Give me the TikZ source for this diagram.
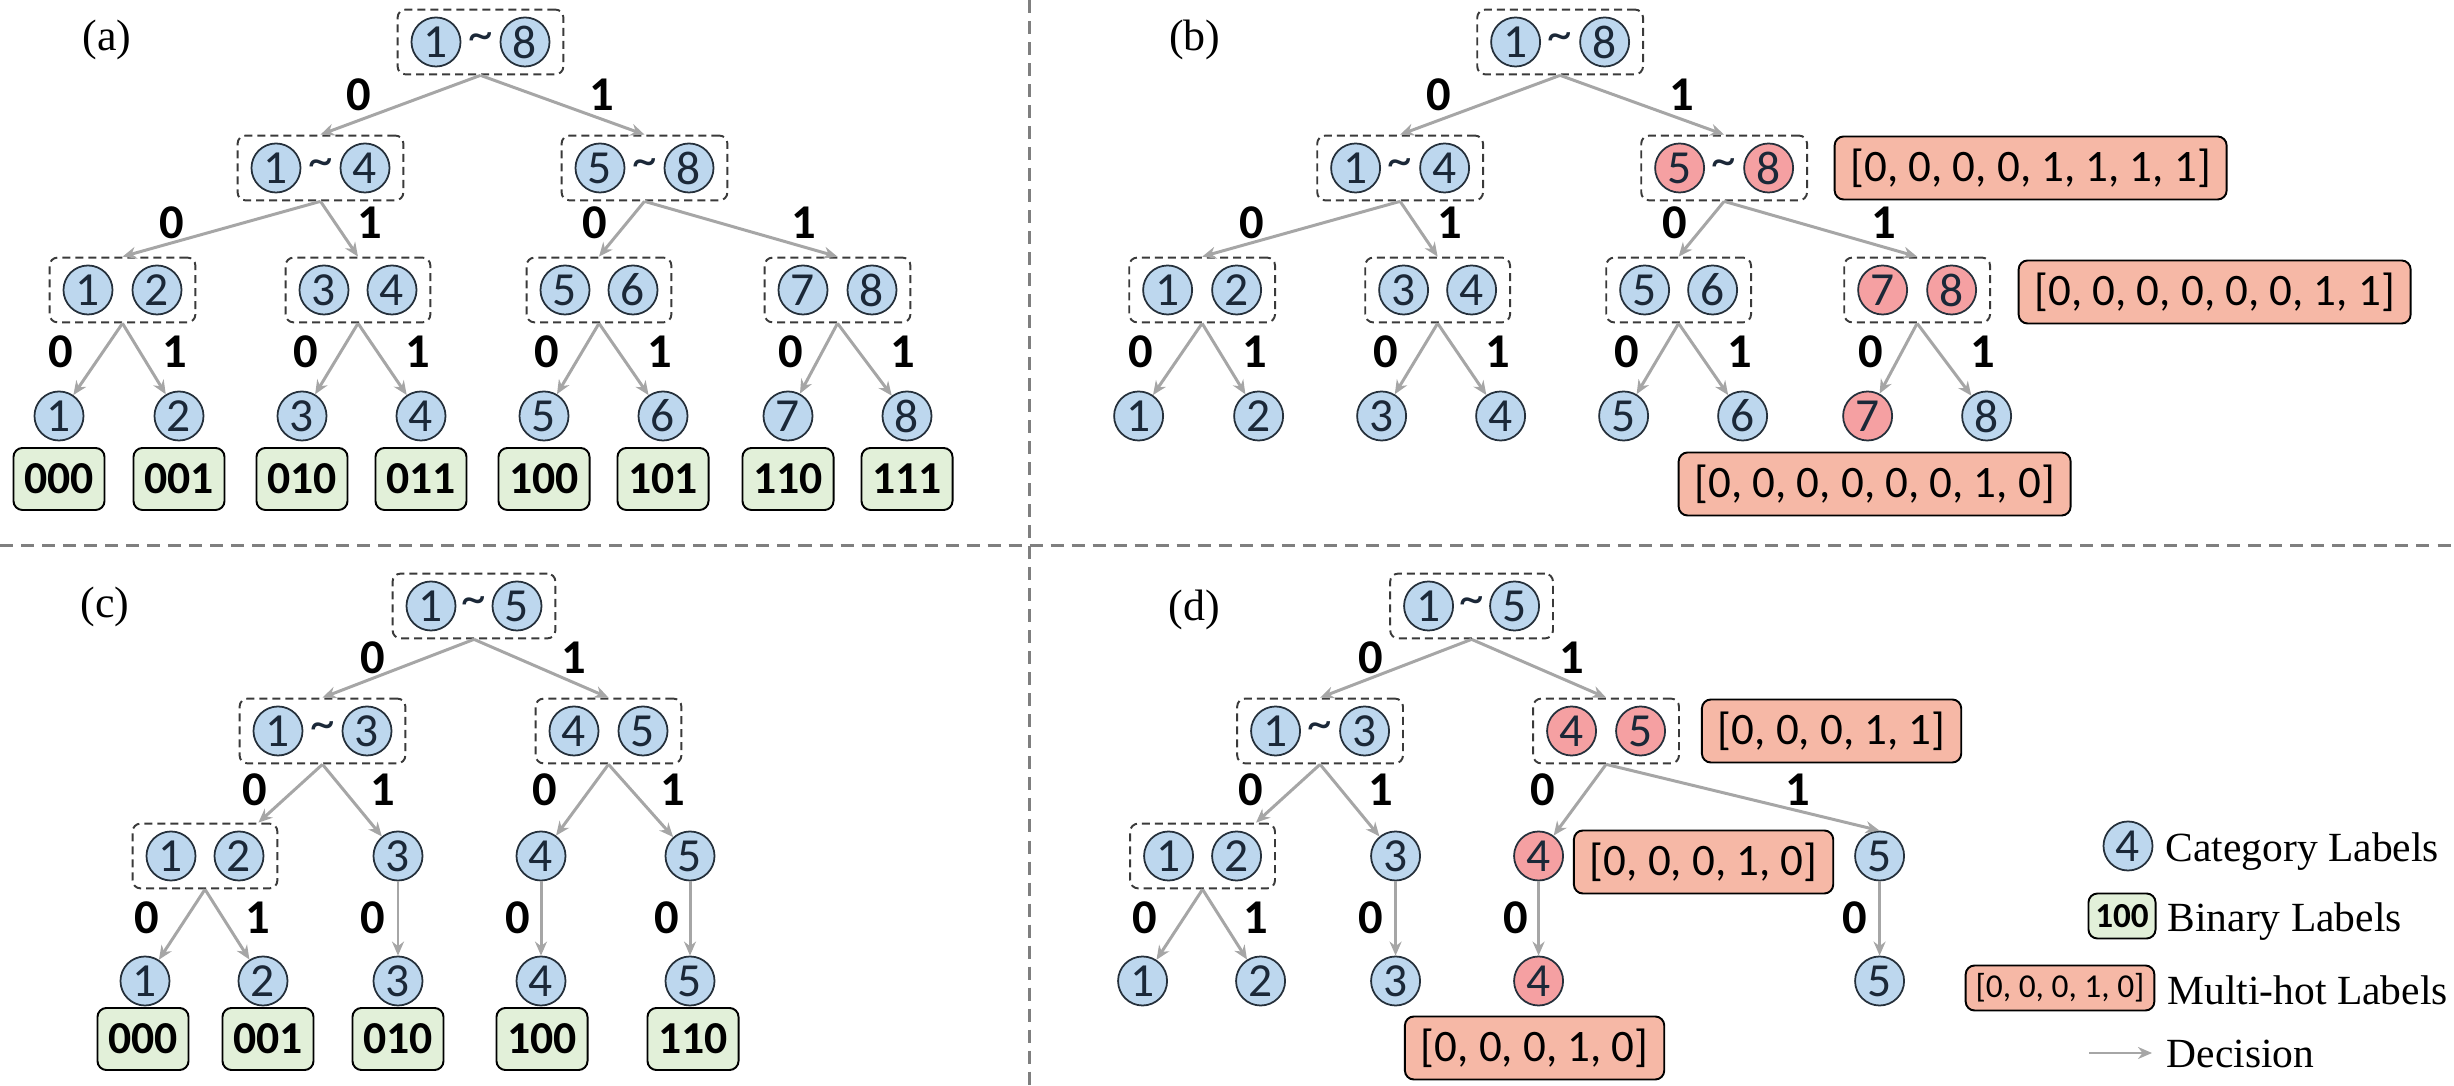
\documentclass[tikz,border=0pt]{standalone}
\usepackage{fontspec}
\setmainfont{Liberation Serif}
\newfontfamily\calibri{Carlito}
\usepackage{xcolor}
\definecolor{CatBlue}{HTML}{BDD7EE}
\definecolor{CatLine}{HTML}{25303B}
\definecolor{CatInk}{HTML}{1B2838}
\definecolor{HotPink}{HTML}{F5A0A2}
\definecolor{HotPeach}{HTML}{F6B8A6}
\definecolor{BinGreen}{HTML}{E2F0D9}
\definecolor{GrpLine}{HTML}{3A3A3A}
\definecolor{DecGray}{HTML}{A6A6A6}
\definecolor{SepGray}{HTML}{7F7F7F}
\usepackage{tikz}
\usetikzlibrary{arrows.meta,fit}

\begin{document}
\begin{tikzpicture}[
  x=0.01cm, y=-0.01cm,
  cat/.style={circle, draw=CatLine, fill=CatBlue, line width=0.5pt,
              minimum size=0.49cm, inner sep=0pt, text=CatInk,
              font=\calibri\fontsize{13.5}{13.5}\selectfont},
  hot/.style={cat, fill=HotPink},
  tld/.style={anchor=mid, inner sep=0pt, text=CatInk,
              font=\calibri\fontsize{14}{14}\selectfont},
  grp/.style={draw=GrpLine, line width=0.55pt, dash pattern=on 0.08cm off 0.05cm,
              rounded corners=0.08cm, inner xsep=0.13cm, inner ysep=0.07cm},
  bin/.style={draw=black, line width=0.55pt, fill=BinGreen, rounded corners=0.09cm,
              minimum width=0.91cm, minimum height=0.62cm, inner sep=0pt,
              font=\calibri\bfseries\fontsize{13}{13}\selectfont},
  multi/.style={draw=black, line width=0.55pt, fill=HotPeach, rounded corners=0.09cm,
                minimum height=0.63cm, inner xsep=0.16cm, inner ysep=0pt,
                font=\calibri\fontsize{12.8}{12.8}\selectfont},
  bit/.style={inner sep=0pt, font=\calibri\bfseries\fontsize{13.8}{13.8}\selectfont},
  dec/.style={-{Stealth[length=0.14cm, width=0.12cm]}, draw=DecGray, line width=0.85pt},
  tag/.style={inner sep=0pt, font=\fontsize{12.5}{12.5}\selectfont},
  key/.style={anchor=base west, inner sep=0pt, font=\fontsize{11.8}{11.8}\selectfont},
  sep/.style={draw=SepGray, line width=0.85pt, dash pattern=on 0.13cm off 0.08cm}
]
  \useasboundingbox (0,0) rectangle (2454,1086);

  % panel borders
  \draw[sep] (1029,0) -- (1029,1086);
  \draw[sep] (0,546) -- (2454,546);

  % (a) binary labels, full tree
  \node[tag] (atag) at (107,40) {(a)};
  \node[cat] (a18x) at (436,42) {1};
  \node[tld] (a18t) at (480.5,42) {\textasciitilde};
  \node[cat] (a18y) at (525,42) {8};
  \node[grp, fit=(a18x)(a18y)] (a18) {};

  \node[cat] (a14x) at (276,168) {1};
  \node[tld] (a14t) at (320.5,168) {\textasciitilde};
  \node[cat] (a14y) at (365,168) {4};
  \node[grp, fit=(a14x)(a14y)] (a14) {};
  \node[cat] (a58x) at (600,168) {5};
  \node[tld] (a58t) at (644.5,168) {\textasciitilde};
  \node[cat] (a58y) at (689,168) {8};
  \node[grp, fit=(a58x)(a58y)] (a58) {};

  \node[cat] (a12x) at (88,290) {1};
  \node[cat] (a12y) at (157,290) {2};
  \node[grp, fit=(a12x)(a12y)] (a12) {};
  \node[cat] (a34x) at (324,290) {3};
  \node[cat] (a34y) at (392,290) {4};
  \node[grp, fit=(a34x)(a34y)] (a34) {};
  \node[cat] (a56x) at (565,290) {5};
  \node[cat] (a56y) at (633,290) {6};
  \node[grp, fit=(a56x)(a56y)] (a56) {};
  \node[cat] (a78x) at (803,290) {7};
  \node[cat] (a78y) at (872,290) {8};
  \node[grp, fit=(a78x)(a78y)] (a78) {};

  \node[cat] (a1) at (59,416) {1};
  \node[cat] (a2) at (179,416) {2};
  \node[cat] (a3) at (302,416) {3};
  \node[cat] (a4) at (421,416) {4};
  \node[cat] (a5) at (544,416) {5};
  \node[cat] (a6) at (663,416) {6};
  \node[cat] (a7) at (788,416) {7};
  \node[cat] (a8) at (907,416) {8};

  \node[bin] (ab1) at (59,479) {000};
  \node[bin] (ab2) at (179,479) {001};
  \node[bin] (ab3) at (302,479) {010};
  \node[bin] (ab4) at (421,479) {011};
  \node[bin] (ab5) at (544,479) {100};
  \node[bin] (ab6) at (663,479) {101};
  \node[bin] (ab7) at (788,479) {110};
  \node[bin] (ab8) at (907,479) {111};

  \draw[dec] (a18.south) -- (a14.north);
  \draw[dec] (a18.south) -- (a58.north);
  \draw[dec] (a14.south) -- (a12.north);
  \draw[dec] (a14.south) -- (a34.north);
  \draw[dec] (a58.south) -- (a56.north);
  \draw[dec] (a58.south) -- (a78.north);
  \draw[dec] (a12.south) -- (a1);
  \draw[dec] (a12.south) -- (a2);
  \draw[dec] (a34.south) -- (a3);
  \draw[dec] (a34.south) -- (a4);
  \draw[dec] (a56.south) -- (a5);
  \draw[dec] (a56.south) -- (a6);
  \draw[dec] (a78.south) -- (a7);
  \draw[dec] (a78.south) -- (a8);

  \node[bit] (ae1) at (359,95) {0};
  \node[bit] (ae2) at (602,95) {1};
  \node[bit] (ae3) at (172,223) {0};
  \node[bit] (ae4) at (370,223) {1};
  \node[bit] (ae5) at (595,223) {0};
  \node[bit] (ae6) at (804,223) {1};
  \node[bit] (ae7) at (61,352) {0};
  \node[bit] (ae8) at (175,352) {1};
  \node[bit] (ae9) at (306,352) {0};
  \node[bit] (ae10) at (418,352) {1};
  \node[bit] (ae11) at (547,352) {0};
  \node[bit] (ae12) at (660,352) {1};
  \node[bit] (ae13) at (791,352) {0};
  \node[bit] (ae14) at (903,352) {1};

  % (b) multi-hot labels, full tree
  \begin{scope}[xshift=10.79cm]
  \node[tag] (btag) at (115,40) {(b)};
  \node[cat] (b18x) at (436,42) {1};
  \node[tld] (b18t) at (480.5,42) {\textasciitilde};
  \node[cat] (b18y) at (525,42) {8};
  \node[grp, fit=(b18x)(b18y)] (b18) {};

  \node[cat] (b14x) at (276,168) {1};
  \node[tld] (b14t) at (320.5,168) {\textasciitilde};
  \node[cat] (b14y) at (365,168) {4};
  \node[grp, fit=(b14x)(b14y)] (b14) {};
  \node[hot] (b58x) at (600,168) {5};
  \node[tld] (b58t) at (644.5,168) {\textasciitilde};
  \node[hot] (b58y) at (689,168) {8};
  \node[grp, fit=(b58x)(b58y)] (b58) {};
  \node[multi] (bm1) at (951,168) {[0, 0, 0, 0, 1, 1, 1, 1]};

  \node[cat] (b12x) at (88,290) {1};
  \node[cat] (b12y) at (157,290) {2};
  \node[grp, fit=(b12x)(b12y)] (b12) {};
  \node[cat] (b34x) at (324,290) {3};
  \node[cat] (b34y) at (392,290) {4};
  \node[grp, fit=(b34x)(b34y)] (b34) {};
  \node[cat] (b56x) at (565,290) {5};
  \node[cat] (b56y) at (633,290) {6};
  \node[grp, fit=(b56x)(b56y)] (b56) {};
  \node[hot] (b78x) at (803,290) {7};
  \node[hot] (b78y) at (872,290) {8};
  \node[grp, fit=(b78x)(b78y)] (b78) {};
  \node[multi] (bm2) at (1135,292) {[0, 0, 0, 0, 0, 0, 1, 1]};

  \node[cat] (b1) at (59,416) {1};
  \node[cat] (b2) at (179,416) {2};
  \node[cat] (b3) at (302,416) {3};
  \node[cat] (b4) at (421,416) {4};
  \node[cat] (b5) at (544,416) {5};
  \node[cat] (b6) at (663,416) {6};
  \node[hot] (b7) at (788,416) {7};
  \node[cat] (b8) at (907,416) {8};
  \node[multi] (bm3) at (795,484) {[0, 0, 0, 0, 0, 0, 1, 0]};

  \draw[dec] (b18.south) -- (b14.north);
  \draw[dec] (b18.south) -- (b58.north);
  \draw[dec] (b14.south) -- (b12.north);
  \draw[dec] (b14.south) -- (b34.north);
  \draw[dec] (b58.south) -- (b56.north);
  \draw[dec] (b58.south) -- (b78.north);
  \draw[dec] (b12.south) -- (b1);
  \draw[dec] (b12.south) -- (b2);
  \draw[dec] (b34.south) -- (b3);
  \draw[dec] (b34.south) -- (b4);
  \draw[dec] (b56.south) -- (b5);
  \draw[dec] (b56.south) -- (b6);
  \draw[dec] (b78.south) -- (b7);
  \draw[dec] (b78.south) -- (b8);

  \node[bit] (be1) at (359,95) {0};
  \node[bit] (be2) at (602,95) {1};
  \node[bit] (be3) at (172,223) {0};
  \node[bit] (be4) at (370,223) {1};
  \node[bit] (be5) at (595,223) {0};
  \node[bit] (be6) at (804,223) {1};
  \node[bit] (be7) at (61,352) {0};
  \node[bit] (be8) at (175,352) {1};
  \node[bit] (be9) at (306,352) {0};
  \node[bit] (be10) at (418,352) {1};
  \node[bit] (be11) at (547,352) {0};
  \node[bit] (be12) at (660,352) {1};
  \node[bit] (be13) at (791,352) {0};
  \node[bit] (be14) at (903,352) {1};
  \end{scope}

  % (c) binary labels, unbalanced tree
  \node[tag] (ctag) at (105,607) {(c)};
  \node[cat] (c15x) at (431,606) {1};
  \node[tld] (c15t) at (474,606) {\textasciitilde};
  \node[cat] (c15y) at (517,606) {5};
  \node[grp, fit=(c15x)(c15y)] (c15) {};

  \node[cat] (c13x) at (278,731) {1};
  \node[tld] (c13t) at (322.5,731) {\textasciitilde};
  \node[cat] (c13y) at (367,731) {3};
  \node[grp, fit=(c13x)(c13y)] (c13) {};
  \node[cat] (c45x) at (574,731) {4};
  \node[cat] (c45y) at (643,731) {5};
  \node[grp, fit=(c45x)(c45y)] (c45) {};

  \node[cat] (c12x) at (171,856) {1};
  \node[cat] (c12y) at (239,856) {2};
  \node[grp, fit=(c12x)(c12y)] (c12) {};
  \node[cat] (c3u) at (398,856) {3};
  \node[cat] (c4u) at (541,856) {4};
  \node[cat] (c5u) at (690,856) {5};

  \node[cat] (c1) at (145,981) {1};
  \node[cat] (c2) at (263,981) {2};
  \node[cat] (c3) at (398,981) {3};
  \node[cat] (c4) at (541,981) {4};
  \node[cat] (c5) at (690,981) {5};

  \node[bin] (cb1) at (143,1039) {000};
  \node[bin] (cb2) at (268,1039) {001};
  \node[bin] (cb3) at (398,1039) {010};
  \node[bin] (cb4) at (542,1039) {100};
  \node[bin] (cb5) at (693,1039) {110};

  \draw[dec] (c15.south) -- (c13.north);
  \draw[dec] (c15.south) -- (c45.north);
  \draw[dec] (c13.south) -- (c12.32);
  \draw[dec] (c13.south) -- (c3u);
  \draw[dec] (c45.south) -- (c4u);
  \draw[dec] (c45.south) -- (c5u);
  \draw[dec] (c12.south) -- (c1);
  \draw[dec] (c12.south) -- (c2);
  \draw[dec] (c3u) -- (c3);
  \draw[dec] (c4u) -- (c4);
  \draw[dec] (c5u) -- (c5);

  \node[bit] (ce1) at (373,658) {0};
  \node[bit] (ce2) at (574,658) {1};
  \node[bit] (ce3) at (255,790) {0};
  \node[bit] (ce4) at (383,790) {1};
  \node[bit] (ce5) at (545,790) {0};
  \node[bit] (ce6) at (673,790) {1};
  \node[bit] (ce7) at (147,918) {0};
  \node[bit] (ce8) at (258,918) {1};
  \node[bit] (ce9) at (373,918) {0};
  \node[bit] (ce10) at (518,918) {0};
  \node[bit] (ce11) at (667,918) {0};

  % (d) multi-hot labels, unbalanced tree
  \begin{scope}[xshift=9.97cm]
  \node[tag] (dtag) at (197,610) {(d)};
  \node[cat] (d15x) at (431,606) {1};
  \node[tld] (d15t) at (474,606) {\textasciitilde};
  \node[cat] (d15y) at (517,606) {5};
  \node[grp, fit=(d15x)(d15y)] (d15) {};

  \node[cat] (d13x) at (278,731) {1};
  \node[tld] (d13t) at (322.5,731) {\textasciitilde};
  \node[cat] (d13y) at (367,731) {3};
  \node[grp, fit=(d13x)(d13y)] (d13) {};
  \node[hot] (d45x) at (574,731) {4};
  \node[hot] (d45y) at (643,731) {5};
  \node[grp, fit=(d45x)(d45y)] (d45) {};
  \node[multi] (dm1) at (834,731) {[0, 0, 0, 1, 1]};

  \node[cat] (d12x) at (171,856) {1};
  \node[cat] (d12y) at (239,856) {2};
  \node[grp, fit=(d12x)(d12y)] (d12) {};
  \node[cat] (d3u) at (398,856) {3};
  \node[hot] (d4u) at (541,856) {4};
  \node[multi] (dm2) at (706,862) {[0, 0, 0, 1, 0]};
  \node[cat] (d5u) at (882,856) {5};

  \node[cat] (d1) at (145,981) {1};
  \node[cat] (d2) at (263,981) {2};
  \node[cat] (d3) at (398,981) {3};
  \node[hot] (d4) at (541,981) {4};
  \node[cat] (d5) at (882,981) {5};
  \node[multi] (dm3) at (537,1048) {[0, 0, 0, 1, 0]};

  \draw[dec] (d15.south) -- (d13.north);
  \draw[dec] (d15.south) -- (d45.north);
  \draw[dec] (d13.south) -- (d12.32);
  \draw[dec] (d13.south) -- (d3u);
  \draw[dec] (d45.south) -- (d4u);
  \draw[dec] (d45.south) -- (d5u.north);
  \draw[dec] (d12.south) -- (d1);
  \draw[dec] (d12.south) -- (d2);
  \draw[dec] (d3u) -- (d3);
  \draw[dec] (d4u) -- (d4);
  \draw[dec] (d5u) -- (d5);

  \node[bit] (de1) at (373,658) {0};
  \node[bit] (de2) at (574,658) {1};
  \node[bit] (de3) at (253,790) {0};
  \node[bit] (de4) at (383,790) {1};
  \node[bit] (de5) at (545,790) {0};
  \node[bit] (de6) at (800,790) {1};
  \node[bit] (de7) at (147,918) {0};
  \node[bit] (de8) at (258,918) {1};
  \node[bit] (de9) at (373,918) {0};
  \node[bit] (de10) at (518,918) {0};
  \node[bit] (de11) at (857,918) {0};
  \end{scope}

  % legend
  \node[cat] (key1) at (2128,846) {4};
  \node[bin, minimum width=0.67cm, minimum height=0.45cm,
        font=\calibri\bfseries\fontsize{10}{10}\selectfont] (key2) at (2122,916) {100};
  \node[multi, minimum height=0.45cm, inner xsep=0.1cm,
        font=\calibri\fontsize{9.5}{9.5}\selectfont] (key3) at (2060,988) {[0, 0, 0, 1, 0]};
  \coordinate (key4a) at (2089,1053);
  \coordinate (key4b) at (2152,1053);
  \draw[dec] (key4a) -- (key4b);
  \node[key] (key1t) at (2165,862) {Category Labels};
  \node[key] (key2t) at (2167,932) {Binary Labels};
  \node[key] (key3t) at (2167,1005) {Multi-hot Labels};
  \node[key] (key4t) at (2166,1068) {Decision};
\end{tikzpicture}
\end{document}
